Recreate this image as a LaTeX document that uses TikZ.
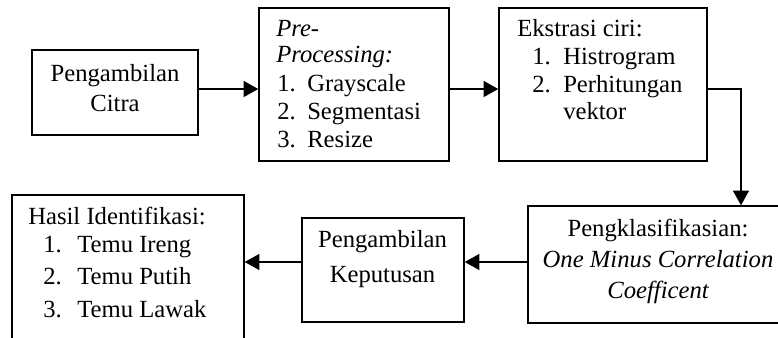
\documentclass[tikz,border=0pt]{standalone}
\usepackage{fontspec}
\setmainfont{Liberation Serif}
\usetikzlibrary{arrows.meta,fit}
\begin{document}
\begin{tikzpicture}[x=0.75pt,y=-0.75pt,
  box/.style={draw, line width=1.1pt, inner sep=0pt, fit={#1}},
  txt/.style={inner sep=0pt, anchor=base west, font=\fontsize{18.5}{20}\selectfont},
  ctxt/.style={inner sep=0pt, anchor=base, font=\fontsize{18.5}{20}\selectfont},
  arr/.style={line width=1.1pt, -{Triangle[length=11pt,width=12pt]}},
  num/.style={txt}
]
\useasboundingbox (0,0) rectangle (778,338);
\clip (0,0) rectangle (778,338);
% boxes
\node[box={(32,50) (198,135)}] (b1) {};
\node[box={(259,8) (449,161)}] (b2) {};
\node[box={(499,8) (707,161)}] (b3) {};
\node[box={(528,206) (792,323)}] (b4) {};
\node[box={(302,218) (464,322)}] (b5) {};
\node[box={(12,195) (244,360)}] (b6) {};
% box 1
\node[ctxt] (t1a) at (115,82) {Pengambilan};
\node[ctxt] (t1b) at (115,112) {Citra};
% box 2
\node[txt] (t2a) at (276,37) {\itshape Pre-};
\node[txt] (t2b) at (276,63) {\itshape Processing:};
\node[txt] (n2a) at (277,92) {1.};
\node[txt] (t2c) at (307,92) {Grayscale};
\node[txt] (n2b) at (277,120) {2.};
\node[txt] (t2d) at (307,120) {Segmentasi};
\node[txt] (n2c) at (277,148) {3.};
\node[txt] (t2e) at (307,148) {Resize};
% box 3
\node[txt] (t3a) at (517,37) {Ekstrasi ciri:};
\node[txt] (n3a) at (532,65) {1.};
\node[txt] (t3b) at (563,65) {Histrogram};
\node[txt] (n3b) at (532,93) {2.};
\node[txt] (t3c) at (563,93) {Perhitungan};
\node[txt] (t3d) at (563,120) {vektor};
% box 4
\node[ctxt] (t4a) at (658,237) {Pengklasifikasian:};
\node[ctxt] (t4b) at (658,268) {\itshape One Minus Correlation};
\node[ctxt] (t4c) at (658,298) {\itshape Coefficent};
% box 5
\node[ctxt] (t5a) at (382.5,248) {Pengambilan};
\node[ctxt] (t5b) at (382.5,282) {Keputusan};
% box 6
\node[txt] (t6a) at (28,225) {Hasil Identifikasi:};
\node[txt] (n6a) at (43,253) {1.};
\node[txt] (t6b) at (77,253) {Temu Ireng};
\node[txt] (n6b) at (43,285) {2.};
\node[txt] (t6c) at (77,285) {Temu Putih};
\node[txt] (n6c) at (43,317) {3.};
\node[txt] (t6d) at (77,317) {Temu Lawak};
% connectors
\draw[arr] (b1.east |- 0,89) -- (b2.west |- 0,89);
\draw[arr] (b2.east |- 0,89) -- (b3.west |- 0,89);
\draw[arr] (b3.east |- 0,89) -| (b4.north -| 741,0);
\draw[arr] (b4.west |- 0,262) -- (b5.east |- 0,262);
\draw[arr] (b5.west |- 0,262) -- (b6.east |- 0,262);
\end{tikzpicture}
\end{document}
